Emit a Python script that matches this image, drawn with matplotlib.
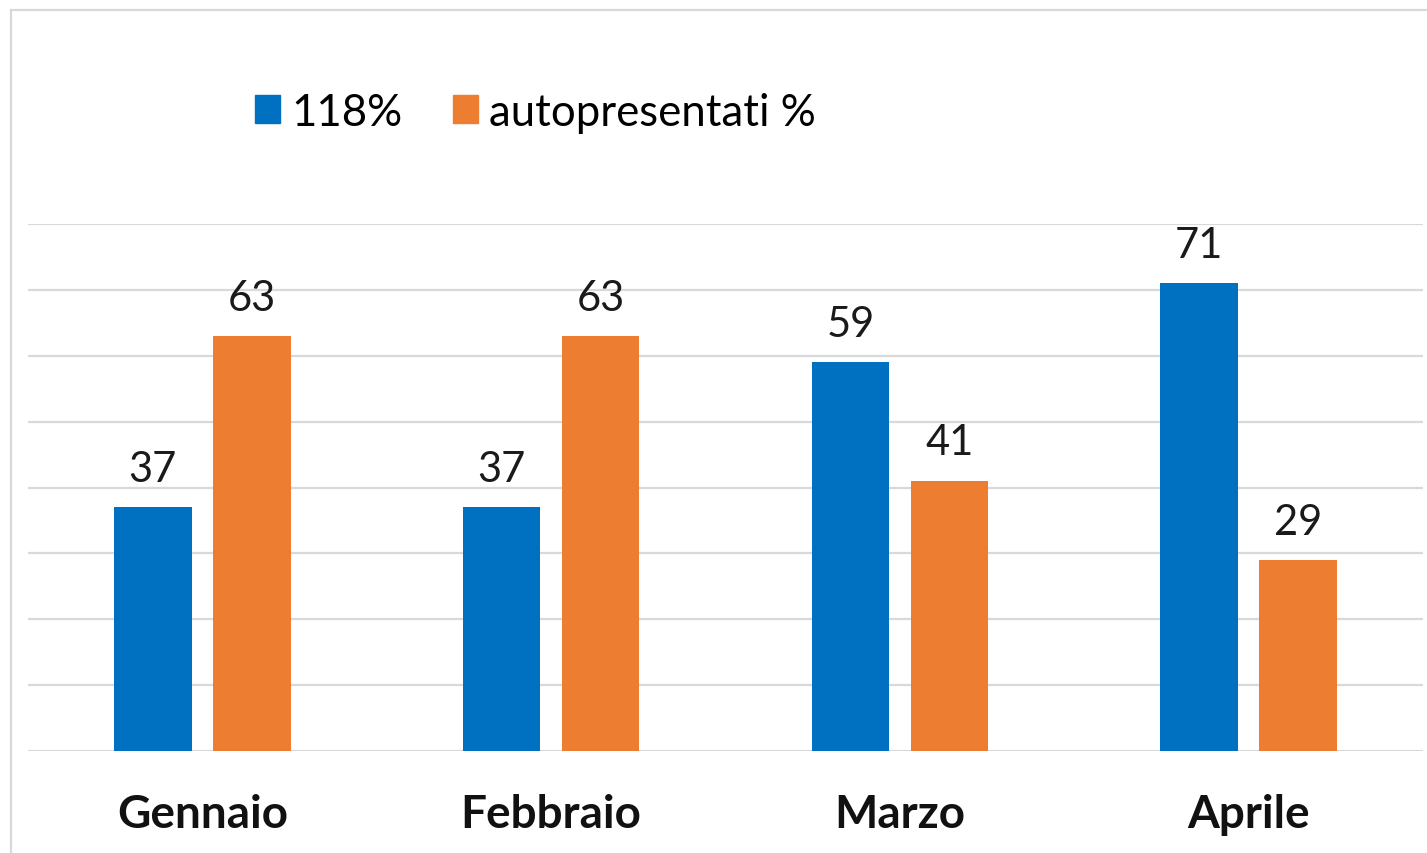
import numpy as np
import matplotlib
matplotlib.use('Agg')
import matplotlib.pyplot as plt
from matplotlib.patches import Patch
from matplotlib.lines import Line2D

# data
months = ['Gennaio', 'Febbraio', 'Marzo', 'Aprile']
v118 = [37, 37, 59, 71]
vauto = [63, 63, 41, 29]
series_names = ['118%', 'autopresentati %']
c_blue = '#0070C0'
c_orange = '#ED7D31'

plt.rcParams['font.family'] = ['Lato', 'DejaVu Sans']

W, H = 1427, 854
fig = plt.figure(figsize=(W/100, H/100), dpi=100)
fig.patch.set_facecolor('white')

# plot area in pixels
x0, x1 = 28, 1423
y_top, y_bot = 225, 752
ax = fig.add_axes([x0/W, 1-y_bot/H, (x1-x0)/W, (y_bot-y_top)/H])

x = np.arange(len(months))
bw = 0.222
off = 0.142
b1 = ax.bar(x-off, v118, bw, color=c_blue, zorder=3)
b2 = ax.bar(x+off, vauto, bw, color=c_orange, zorder=3)

for bars, vals in ((b1, v118), (b2, vauto)):
    for b, v in zip(bars, vals):
        ax.annotate(str(v), (b.get_x()+b.get_width()/2, v),
                    xytext=(0, 14), textcoords='offset points',
                    ha='center', va='bottom', fontsize=30, color='#1a1a1a')

ax.set_xlim(-0.5, 3.5)
ax.set_ylim(0, 80)
ax.set_yticks(np.arange(0, 81, 10))
ax.yaxis.grid(True, color='#d9d9d9', linewidth=1.6, zorder=0)
ax.tick_params(axis='y', left=False, labelleft=False)
ax.tick_params(axis='x', bottom=False, pad=27)
ax.set_xticks(x)
ax.set_xticklabels(months, fontsize=33, fontweight='bold', color='#111111')
for s in ax.spines.values():
    s.set_visible(False)

# legend
handles = [Patch(color=c_blue), Patch(color=c_orange)]
fig.legend(handles, series_names, loc='center left',
           bbox_to_anchor=(255/W, 1-113/H), ncol=2, frameon=False,
           fontsize=31.5, handlelength=0.58, handleheight=0.58,
           handletextpad=0.25, columnspacing=1.15,
           borderpad=0, borderaxespad=0)

# outer chart border (cropped)
fig.add_artist(Line2D([11/W, 1.0], [1-11/H, 1-11/H], color='#d9d9d9', linewidth=1.6))
fig.add_artist(Line2D([11/W, 11/W], [0, 1-11/H], color='#d9d9d9', linewidth=1.6))

fig.savefig('out.png', dpi=100)
